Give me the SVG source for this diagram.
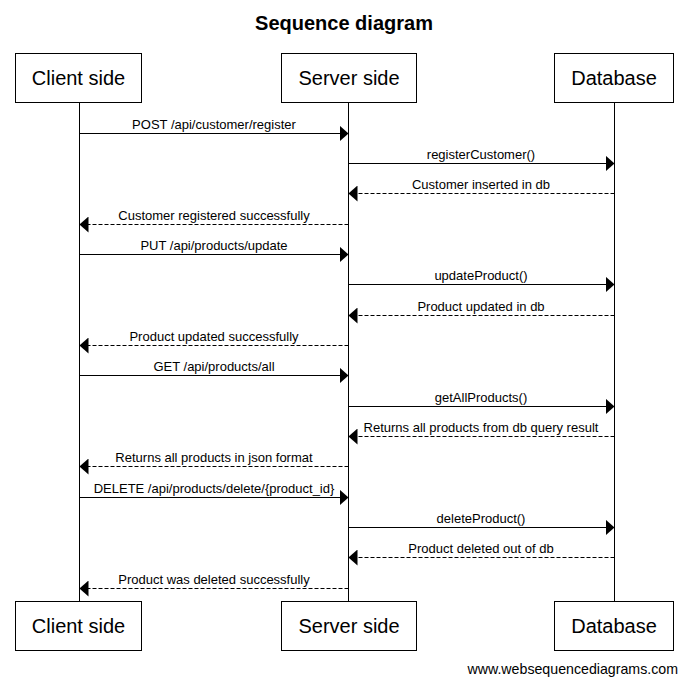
<svg xmlns="http://www.w3.org/2000/svg" width="688" height="684" viewBox="0 0 688 684">
<defs>
<style>
text{font-family:"Liberation Sans",Arial,sans-serif;fill:#000}
.title{font-size:20px;font-weight:bold}
.part{font-size:20px}
.msg{font-size:13px}
.wm{font-size:14.2px}
.box{fill:#fff;stroke:#000;stroke-width:1}
.life{stroke:#000;stroke-width:1}
.solid{stroke:#000;stroke-width:1;fill:none}
.dash{stroke:#000;stroke-width:1;fill:none;stroke-dasharray:4,2}
</style>
<marker id="ah" viewBox="0 0 9 16" refX="9" refY="8" markerWidth="9" markerHeight="16" markerUnits="userSpaceOnUse" orient="auto">
<path d="M0,0 L9,8 L0,16 Z" fill="#000"/>
</marker>
</defs>
<rect width="688" height="684" fill="#fff"/>
<text class="title" x="344" y="30" text-anchor="middle">Sequence diagram</text>
<g id="lifelines">
<line class="life" x1="79.5" y1="102" x2="79.5" y2="601"/>
<line class="life" x1="348.5" y1="102" x2="348.5" y2="601"/>
<line class="life" x1="614.5" y1="102" x2="614.5" y2="601"/>
</g>
<g id="client">
<rect class="box" x="15.5" y="53.5" width="126" height="49"/>
<text class="part" x="78.5" y="85" text-anchor="middle">Client side</text>
<rect class="box" x="15.5" y="601.5" width="126" height="49"/>
<text class="part" x="78.5" y="633" text-anchor="middle">Client side</text>
</g>
<g id="server">
<rect class="box" x="281.5" y="53.5" width="135" height="49"/>
<text class="part" x="349" y="85" text-anchor="middle">Server side</text>
<rect class="box" x="281.5" y="601.5" width="135" height="49"/>
<text class="part" x="349" y="633" text-anchor="middle">Server side</text>
</g>
<g id="database">
<rect class="box" x="554.5" y="53.5" width="119" height="49"/>
<text class="part" x="614" y="85" text-anchor="middle">Database</text>
<rect class="box" x="554.5" y="601.5" width="119" height="49"/>
<text class="part" x="614" y="633" text-anchor="middle">Database</text>
</g>
<g id="connectors">
<line class="solid" x1="79.5" y1="133.5" x2="348.5" y2="133.5" marker-end="url(#ah)"/>
<text class="msg" x="214" y="129" text-anchor="middle">POST /api/customer/register</text>
<line class="solid" x1="348.5" y1="163.5" x2="614.5" y2="163.5" marker-end="url(#ah)"/>
<text class="msg" x="481" y="159" text-anchor="middle">registerCustomer()</text>
<line class="dash" x1="614.5" y1="193.5" x2="348.5" y2="193.5" marker-end="url(#ah)"/>
<text class="msg" x="481" y="189" text-anchor="middle">Customer inserted in db</text>
<line class="dash" x1="348.5" y1="224.5" x2="79.5" y2="224.5" marker-end="url(#ah)"/>
<text class="msg" x="214" y="220" text-anchor="middle">Customer registered successfully</text>
<line class="solid" x1="79.5" y1="254.5" x2="348.5" y2="254.5" marker-end="url(#ah)"/>
<text class="msg" x="214" y="250" text-anchor="middle">PUT /api/products/update</text>
<line class="solid" x1="348.5" y1="284.5" x2="614.5" y2="284.5" marker-end="url(#ah)"/>
<text class="msg" x="481" y="280" text-anchor="middle">updateProduct()</text>
<line class="dash" x1="614.5" y1="315.5" x2="348.5" y2="315.5" marker-end="url(#ah)"/>
<text class="msg" x="481" y="311" text-anchor="middle">Product updated in db</text>
<line class="dash" x1="348.5" y1="345.5" x2="79.5" y2="345.5" marker-end="url(#ah)"/>
<text class="msg" x="214" y="341" text-anchor="middle">Product updated successfully</text>
<line class="solid" x1="79.5" y1="375.5" x2="348.5" y2="375.5" marker-end="url(#ah)"/>
<text class="msg" x="214" y="371" text-anchor="middle">GET /api/products/all</text>
<line class="solid" x1="348.5" y1="406.5" x2="614.5" y2="406.5" marker-end="url(#ah)"/>
<text class="msg" x="481" y="402" text-anchor="middle">getAllProducts()</text>
<line class="dash" x1="614.5" y1="436.5" x2="348.5" y2="436.5" marker-end="url(#ah)"/>
<text class="msg" x="481" y="432" text-anchor="middle">Returns all products from db query result</text>
<line class="dash" x1="348.5" y1="466.5" x2="79.5" y2="466.5" marker-end="url(#ah)"/>
<text class="msg" x="214" y="462" text-anchor="middle">Returns all products in json format</text>
<line class="solid" x1="79.5" y1="497.5" x2="348.5" y2="497.5" marker-end="url(#ah)"/>
<text class="msg" x="214" y="493" text-anchor="middle">DELETE /api/products/delete/{product_id}</text>
<line class="solid" x1="348.5" y1="527.5" x2="614.5" y2="527.5" marker-end="url(#ah)"/>
<text class="msg" x="481" y="523" text-anchor="middle">deleteProduct()</text>
<line class="dash" x1="614.5" y1="557.5" x2="348.5" y2="557.5" marker-end="url(#ah)"/>
<text class="msg" x="481" y="553" text-anchor="middle">Product deleted out of db</text>
<line class="dash" x1="348.5" y1="588.5" x2="79.5" y2="588.5" marker-end="url(#ah)"/>
<text class="msg" x="214" y="584" text-anchor="middle">Product was deleted successfully</text>
</g>
<text class="wm" x="678" y="674" text-anchor="end">www.websequencediagrams.com</text>
</svg>
